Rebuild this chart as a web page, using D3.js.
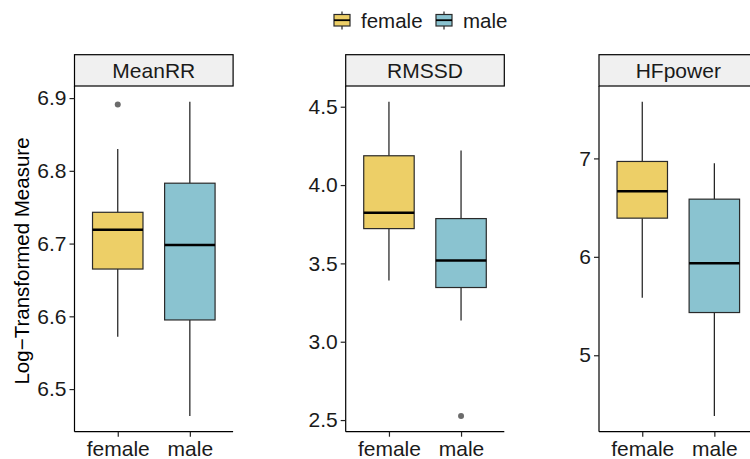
<!DOCTYPE html>
<html>
<head>
<meta charset="utf-8">
<script src="https://cdn.jsdelivr.net/npm/d3@7"></script>
<style>
  html, body { margin: 0; padding: 0; background: #fff; }
  svg { display: block; font-family: "Liberation Sans", Arial, sans-serif; }
</style>
</head>
<body>
<svg id="chart" width="750" height="459"></svg>
<script>
// HRV measures, log-transformed, split by sex
const metrics = ["MeanRR", "RMSSD", "HFpower"];
const sexes = ["female", "male"];

// Box statistics per metric: [female, male]
const whiskerLow = [[6.572, 6.463], [3.391, 3.136], [5.585, 4.383]];
const lowerQuartile = [[6.665, 6.595], [3.722, 3.346], [6.393, 5.434]];
const medians = [[6.719, 6.698], [3.823, 3.518], [6.667, 5.935]];
const upperQuartile = [[6.743, 6.783], [4.187, 3.786], [6.969, 6.586]];
const whiskerHigh = [[6.830, 6.895], [4.532, 4.221], [7.576, 6.952]];
const outliers = [[[6.891], []], [[], [2.526]], [[], []]];

// Y-axis tick values per panel
const yTicks = [
  [6.5, 6.6, 6.7, 6.8, 6.9],
  [2.5, 3.0, 3.5, 4.0, 4.5],
  [5, 6, 7]
];
const yTickFormat = [d3.format(".1f"), d3.format(".1f"), d3.format("d")];

const fillColors = ["#EDCF67", "#8AC3D0"];

const svg = d3.select("#chart");
const font = "Liberation Sans, Arial, sans-serif";
const textSize = 21;

// Panel geometry
const panelLefts = [74.5, 345.7, 599];
const panelWidth = 158.6;
const stripTop = 54.7, stripBottom = 86, panelBottom = 431.7;

const color = d3.scaleOrdinal().domain(sexes).range(fillColors);

metrics.forEach((metric, mi) => {
  const x0 = panelLefts[mi];
  const g = svg.append("g").attr("transform", `translate(${x0},0)`);

  // y domain from data with 5% expansion on each side
  const vals = [...whiskerLow[mi], ...whiskerHigh[mi], ...outliers[mi].flat()];
  const lo = d3.min(vals), hi = d3.max(vals);
  const pad = (hi - lo) * 0.05;
  const y = d3.scaleLinear().domain([lo - pad, hi + pad]).range([panelBottom, stripBottom]);
  const x = d3.scalePoint().domain(sexes).range([0, panelWidth]).padding(0.6);
  const step = panelWidth / 2.2;
  const boxW = step * 0.7;

  // Strip
  g.append("rect")
    .attr("x", 0).attr("y", stripTop)
    .attr("width", panelWidth).attr("height", stripBottom - stripTop)
    .attr("fill", "#F0F0F0").attr("stroke", "#000").attr("stroke-width", 1.2);
  g.append("text")
    .attr("x", panelWidth / 2).attr("y", (stripTop + stripBottom) / 2)
    .attr("dy", "0.35em").attr("text-anchor", "middle")
    .attr("font-size", textSize).attr("fill", "#1A1A1A")
    .text(metric);

  // Boxes
  sexes.forEach((sex, si) => {
    const cx = x(sex);
    const bg = g.append("g");
    bg.append("line")
      .attr("x1", cx).attr("x2", cx)
      .attr("y1", y(whiskerHigh[mi][si])).attr("y2", y(upperQuartile[mi][si]))
      .attr("stroke", "#1a1a1a").attr("stroke-width", 1.2);
    bg.append("line")
      .attr("x1", cx).attr("x2", cx)
      .attr("y1", y(lowerQuartile[mi][si])).attr("y2", y(whiskerLow[mi][si]))
      .attr("stroke", "#1a1a1a").attr("stroke-width", 1.2);
    bg.append("rect")
      .attr("x", cx - boxW / 2).attr("width", boxW)
      .attr("y", y(upperQuartile[mi][si]))
      .attr("height", y(lowerQuartile[mi][si]) - y(upperQuartile[mi][si]))
      .attr("fill", color(sex)).attr("stroke", "#2a2a2a").attr("stroke-width", 1.2);
    bg.append("line")
      .attr("x1", cx - boxW / 2).attr("x2", cx + boxW / 2)
      .attr("y1", y(medians[mi][si])).attr("y2", y(medians[mi][si]))
      .attr("stroke", "#000").attr("stroke-width", 2.6);
    bg.selectAll("circle.out")
      .data(outliers[mi][si])
      .join("circle")
      .attr("class", "out")
      .attr("cx", cx).attr("cy", d => y(d)).attr("r", 3)
      .attr("fill", "#6b6b6b");
  });

  // Axes
  const yAxis = d3.axisLeft(y).tickValues(yTicks[mi]).tickFormat(yTickFormat[mi])
    .tickSize(5).tickPadding(3);
  const ya = g.append("g").call(yAxis);
  ya.select(".domain").attr("stroke", "#000").attr("stroke-width", 1.2)
    .attr("d", `M0,${panelBottom}V${stripBottom}`);
  ya.selectAll(".tick line").attr("stroke", "#222").attr("stroke-width", 1.2);
  ya.selectAll(".tick text").attr("font-size", textSize).attr("fill", "#1A1A1A")
    .attr("font-family", font);

  const xAxis = d3.axisBottom(x).tickSize(5).tickPadding(4);
  const xa = g.append("g").attr("transform", `translate(0,${panelBottom})`).call(xAxis);
  xa.select(".domain").attr("stroke", "#000").attr("stroke-width", 1.2)
    .attr("d", `M0,0H${panelWidth}`);
  xa.selectAll(".tick line").attr("stroke", "#222").attr("stroke-width", 1.2);
  xa.selectAll(".tick text").attr("font-size", textSize).attr("fill", "#1A1A1A")
    .attr("font-family", font);
});

// Y-axis title
svg.append("text")
  .attr("transform", "translate(29,261) rotate(-90)")
  .attr("text-anchor", "middle")
  .attr("font-size", 20.5).attr("fill", "#000")
  .text("Log\u2212Transformed Measure");

// Legend
const legend = svg.append("g");
const legendX = [333.5, 435.5];
sexes.forEach((sex, si) => {
  const lg = legend.append("g").attr("transform", `translate(${legendX[si]},0)`);
  lg.append("line").attr("x1", 8.5).attr("x2", 8.5).attr("y1", 11.5).attr("y2", 29.5)
    .attr("stroke", "#222").attr("stroke-width", 1.2);
  lg.append("rect").attr("x", 0.5).attr("y", 14.5).attr("width", 16).attr("height", 11.5)
    .attr("fill", color(sex)).attr("stroke", "#2a2a2a").attr("stroke-width", 1.2);
  lg.append("line").attr("x1", 0.5).attr("x2", 16.5).attr("y1", 20.2).attr("y2", 20.2)
    .attr("stroke", "#000").attr("stroke-width", 1.8);
  lg.append("text").attr("x", 27.5).attr("y", 20.5).attr("dy", "0.35em")
    .attr("font-size", 20.5).attr("fill", "#1A1A1A")
    .text(sex);
});
</script>
</body>
</html>
